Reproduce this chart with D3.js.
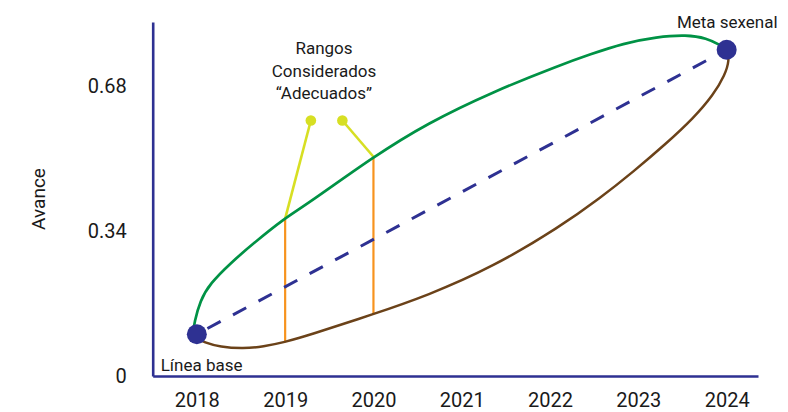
<!DOCTYPE html>
<html lang="es">
<head>
<meta charset="utf-8">
<title>Avance</title>
<script src="https://cdn.jsdelivr.net/npm/d3@7"></script>
<style>
  body { margin: 0; background: #fff; }
  text { font-family: Roboto, "Liberation Sans", sans-serif; fill: #1a1a1a; }
</style>
</head>
<body>
<script>
// años del eje x y marcas del eje y
var years = [2018, 2019, 2020, 2021, 2022, 2023, 2024];
var yTicks = [0, 0.34, 0.68];

// línea base y meta sexenal
var baseYear = 2018, baseValue = 0.098;
var goalYear = 2024, goalValue = 0.765;

// borde superior del rango (verde) [año, avance]
var upperBand = [
  [2017.964, 0.107], [2017.969, 0.123], [2018.037, 0.177], [2018.151, 0.217],
  [2018.377, 0.264], [2018.641, 0.311], [2018.988, 0.369], [2019.245, 0.402],
  [2019.999, 0.514], [2020.604, 0.592], [2021.358, 0.667], [2022.113, 0.729],
  [2022.453, 0.754], [2022.830, 0.780], [2023.208, 0.795], [2023.547, 0.800],
  [2023.774, 0.792], [2023.926, 0.776], [2024.007, 0.765]
];

// borde inferior del rango (café)
var lowerBand = [
  [2018.015, 0.088], [2018.075, 0.079], [2018.264, 0.068], [2018.528, 0.064],
  [2018.754, 0.069], [2018.988, 0.079], [2019.263, 0.095], [2019.999, 0.145],
  [2020.604, 0.188], [2021.358, 0.256], [2022.113, 0.350], [2022.566, 0.417],
  [2022.943, 0.479], [2023.321, 0.546], [2023.622, 0.604], [2023.849, 0.659],
  [2023.982, 0.706], [2024.031, 0.741], [2024.007, 0.765]
];

// rangos "adecuados" marcados en 2019 y 2020
var rangeYears = [2019, 2020];
var rangeLow = [0.079, 0.145];
var rangeHigh = [0.369, 0.514];
// puntos de la llamada (año, avance)
var calloutX = [2019.291, 2019.648];
var calloutY = [0.599, 0.599];

var w = 788, h = 412;
var navy = "#2e3192";

var svg = d3.select("body").append("svg")
  .attr("width", w)
  .attr("height", h);

var x = d3.scaleLinear().domain([2017.5, 2024.355]).range([152.7, 758]);
var y = d3.scaleLinear().domain([0, 0.83]).range([376, 22]);

// ejes
var xAxis = svg.append("g")
  .attr("transform", "translate(0," + y(0) + ")")
  .call(d3.axisBottom(x).tickValues(years).tickFormat(d3.format("d"))
    .tickSize(0).tickPadding(17));
var yAxis = svg.append("g")
  .attr("transform", "translate(" + x(2017.5) + ",0)")
  .call(d3.axisLeft(y).tickValues(yTicks).tickFormat(function(d) { return d === 0 ? "0" : d3.format(".2f")(d); })
    .tickSize(0).tickPadding(26));

[xAxis, yAxis].forEach(function(g) {
  g.select(".domain").attr("stroke", navy).attr("stroke-width", 2.6);
  g.selectAll("text").attr("font-size", 20).attr("font-family", "Roboto, sans-serif").attr("fill", "#1a1a1a");
});

svg.append("text")
  .attr("transform", "translate(45," + y(0.415) + ") rotate(-90)")
  .attr("text-anchor", "middle")
  .attr("font-size", 19)
  .text("Avance");

var line = d3.line()
  .x(function(d) { return x(d[0]); })
  .y(function(d) { return y(d[1]); })
  .curve(d3.curveBasis);

// líneas de llamada amarillas
rangeYears.forEach(function(yr, i) {
  svg.append("line")
    .attr("x1", x(yr)).attr("y1", y(rangeHigh[i]))
    .attr("x2", x(calloutX[i])).attr("y2", y(calloutY[i]))
    .attr("stroke", "#d7df23").attr("stroke-width", 2.6);
  svg.append("circle")
    .attr("cx", x(calloutX[i])).attr("cy", y(calloutY[i]))
    .attr("r", 5.3).attr("fill", "#d7df23");
});

// rangos verticales naranjas
svg.selectAll(".rango")
  .data(rangeYears)
  .enter()
  .append("line")
  .attr("class", "rango")
  .attr("x1", function(d) { return x(d); })
  .attr("x2", function(d) { return x(d); })
  .attr("y1", function(d, i) { return y(rangeLow[i]); })
  .attr("y2", function(d, i) { return y(rangeHigh[i]); })
  .attr("stroke", "#f7931e")
  .attr("stroke-width", 2.2);

svg.append("path")
  .datum(upperBand)
  .attr("d", line)
  .attr("fill", "none")
  .attr("stroke", "#009245")
  .attr("stroke-width", 2.7);

svg.append("path")
  .datum(lowerBand)
  .attr("d", line)
  .attr("fill", "none")
  .attr("stroke", "#6b4219")
  .attr("stroke-width", 2.5);

// trayectoria esperada
svg.append("line")
  .attr("x1", x(baseYear)).attr("y1", y(baseValue))
  .attr("x2", x(goalYear)).attr("y2", y(goalValue))
  .attr("stroke", navy)
  .attr("stroke-width", 3)
  .attr("stroke-dasharray", "15,14")
  .attr("stroke-dashoffset", -12);

svg.selectAll(".punto")
  .data([[baseYear, baseValue], [goalYear, goalValue]])
  .enter()
  .append("circle")
  .attr("class", "punto")
  .attr("cx", function(d) { return x(d[0]); })
  .attr("cy", function(d) { return y(d[1]); })
  .attr("r", 10)
  .attr("fill", navy);

// etiquetas
svg.append("text")
  .attr("x", x(goalYear) + 51).attr("y", 28)
  .attr("text-anchor", "end")
  .attr("font-size", 17)
  .text("Meta sexenal");

svg.append("text")
  .attr("x", 160.7).attr("y", 370.7)
  .attr("font-size", 17)
  .text("Línea base");

var callout = svg.append("text")
  .attr("text-anchor", "middle")
  .attr("font-size", 17);
["Rangos", "Considerados", "\u201CAdecuados\u201D"].forEach(function(t, i) {
  callout.append("tspan")
    .attr("x", 324)
    .attr("y", 54 + i * 22.5)
    .text(t);
});
</script>
</body>
</html>
